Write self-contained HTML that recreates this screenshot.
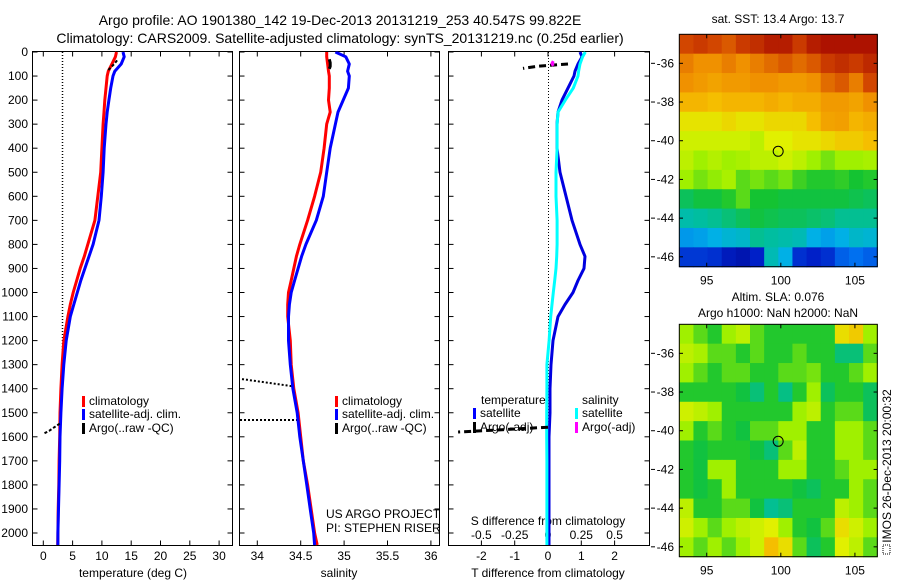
<!DOCTYPE html>
<html><head><meta charset="utf-8"><style>
body{margin:0;background:#fff;}
svg{display:block;font-family:"Liberation Sans",sans-serif;}
text{fill:#000;}
</style></head><body>
<svg id="fig" width="900" height="580" viewBox="0 0 900 580" xmlns="http://www.w3.org/2000/svg">
<defs>
<clipPath id="c1"><rect x="32.5" y="51.5" width="200" height="494"/></clipPath>
<clipPath id="c2"><rect x="239.5" y="51.5" width="200" height="494"/></clipPath>
<clipPath id="c3"><rect x="448.5" y="51.5" width="201" height="494"/></clipPath>
</defs>
<text x="340" y="25" font-size="14" text-anchor="middle">Argo profile: AO 1901380_142 19-Dec-2013 20131219_253 40.547S 99.822E</text>
<text x="340" y="43" font-size="14" text-anchor="middle">Climatology: CARS2009. Satellite-adjusted climatology: synTS_20131219.nc (0.25d earlier)</text>
</svg>
<script>
// ---- data ----
const depths = [0,20,50,80,100,150,200,250,300,400,500,600,700,800,850,900,950,1000,1050,1100,1200,1300,1400,1500,1600,1700,1800,1900,2000,2050];
const tempClim = [12.5,12.3,11.7,11.1,10.9,10.7,10.5,10.35,10.2,10.0,9.8,9.3,8.8,7.6,7.0,6.3,5.7,5.1,4.6,4.2,3.5,3.2,3.0,2.85,2.8,2.7,2.65,2.55,2.5,2.45];
const tempSat = [13.6,13.8,13.3,12.2,11.9,11.5,11.2,10.9,10.7,10.4,10.2,9.9,9.5,8.5,7.8,7.1,6.4,5.8,5.2,4.6,3.9,3.5,3.2,3.0,2.85,2.8,2.7,2.6,2.5,2.5];
const salClim = [34.80,34.80,34.81,34.82,34.83,34.83,34.82,34.84,34.80,34.77,34.73,34.66,34.58,34.49,34.45,34.42,34.39,34.36,34.35,34.35,34.38,34.39,34.42,34.47,34.50,34.53,34.58,34.62,34.66,34.69];
const salSat = [34.90,35.02,35.06,35.04,35.06,35.05,34.99,34.93,34.90,34.84,34.80,34.76,34.68,34.56,34.51,34.47,34.43,34.39,34.37,34.36,34.36,34.38,34.41,34.46,34.49,34.53,34.57,34.61,34.65,34.66];
const dTsat = [0.96,1.02,0.9,0.81,0.78,0.6,0.42,0.3,0.27,0.27,0.36,0.54,0.72,0.96,1.11,1.08,0.9,0.75,0.51,0.3,0.15,0.09,0.06,0.06,0.03,0.03,0.03,0.03,0.03,0.03];
const dSsat = [0.28,0.26,0.24,0.23,0.225,0.19,0.13,0.075,0.068,0.068,0.06,0.06,0.068,0.068,0.065,0.06,0.05,0.04,0.03,0.02,0.008,-0.008,-0.008,-0.01,-0.01,-0.008,-0.008,-0.008,-0.008,-0.008];
const argoTdepth = [35,50,65,80];
const argoT = [12.6,12.1,11.5,10.9];
const argoTdeep = [1545,1560,1575,1585];
const argoTdeepV = [2.8,1.9,1.0,0.2];
const argoSdepth = [30,45,60,70];
const argoS = [34.83,34.84,34.84,34.83];
const argoDTdepth = [50,55,60,68];
const argoDT = [0.6,0.1,-0.35,-0.75];
const argoDTdeepD = [1560,1570,1580];
const argoDTdeep = [0.0,-1.3,-2.7];
const argoDSdepth = [38,48,58];
const argoDS = [0.04,0.03,0.04];
const depthTicks = [0,100,200,300,400,500,600,700,800,900,1000,1100,1200,1300,1400,1500,1600,1700,1800,1900,2000];
const tempTicks = [0,5,10,15,20,25,30];
const salTicks = [34,34.5,35,35.5,36];
const dTTicks = [-2,-1,0,1,2];
const dSTicks = [-0.5,-0.25,0,0.25,0.5];
const lonTicks = [95,100,105];
const latTicks = [-36,-38,-40,-42,-44,-46];
const sst = [
[.88,.9,.88,.86,.9,.92,.95,.95,.9,.95,.97,.97,.97,.97],
[.82,.8,.8,.82,.8,.82,.84,.86,.84,.86,.9,.92,.9,.93],
[.8,.78,.76,.78,.78,.8,.8,.78,.78,.8,.84,.86,.82,.88],
[.72,.72,.7,.72,.72,.72,.74,.72,.74,.74,.78,.78,.76,.8],
[.64,.64,.64,.66,.64,.64,.66,.66,.66,.7,.76,.77,.72,.74],
[.6,.6,.6,.6,.6,.58,.62,.62,.64,.64,.66,.68,.68,.7],
[.58,.55,.57,.55,.56,.58,.58,.6,.58,.55,.52,.55,.55,.56],
[.55,.52,.54,.56,.5,.52,.5,.52,.48,.46,.46,.47,.45,.46],
[.42,.44,.44,.46,.5,.45,.45,.44,.44,.44,.44,.44,.43,.42],
[.36,.37,.38,.4,.42,.44,.43,.42,.42,.41,.40,.38,.38,.38],
[.27,.28,.3,.32,.33,.38,.37,.36,.35,.3,.28,.3,.33,.32],
[.15,.15,.14,.1,.08,.12,.35,.3,.14,.12,.14,.2,.22,.2]];
const sla = [
[.55,.5,.46,.55,.58,.5,.46,.46,.46,.46,.46,.65,.68,.55],
[.58,.56,.5,.5,.46,.5,.46,.46,.5,.46,.46,.4,.4,.5],
[.55,.5,.46,.5,.5,.46,.46,.5,.5,.52,.46,.46,.5,.55],
[.46,.46,.46,.46,.44,.4,.46,.39,.46,.55,.42,.46,.46,.42],
[.6,.58,.55,.46,.46,.46,.46,.46,.55,.58,.46,.5,.5,.42],
[.55,.46,.5,.46,.44,.5,.5,.55,.55,.46,.46,.55,.55,.5],
[.46,.44,.46,.46,.46,.44,.4,.5,.58,.46,.46,.55,.55,.5],
[.46,.44,.55,.55,.46,.46,.46,.55,.55,.46,.46,.5,.55,.55],
[.46,.44,.46,.55,.46,.46,.46,.46,.44,.42,.46,.46,.55,.5],
[.58,.46,.46,.5,.5,.44,.38,.4,.46,.46,.46,.58,.55,.5],
[.6,.55,.5,.55,.58,.6,.62,.55,.46,.44,.5,.65,.6,.55],
[.55,.5,.55,.5,.55,.6,.7,.65,.5,.42,.46,.62,.58,.5]];
const argoLon = 99.822, argoLat = -40.547;

// ---- scales ----
const NS="http://www.w3.org/2000/svg";
const svg=document.getElementById('fig');
const yD=d=>52+d*0.2405;
const xT=t=>43.3+t*5.86;
const xS=s=>257.3+(s-34)*86.8;
const xdT=v=>548+v*33.3;
const xdS=v=>548+v*133.2;
const lonX=l=>679.3+(l-93.15)*14.82;
const latY1=l=>34.3+(-34.5-l)*19.35;
const latY2=l=>324.3+(-34.5-l)*19.35;

function mk(tag,attrs,parent){const e=document.createElementNS(NS,tag);for(const k in attrs)e.setAttribute(k,attrs[k]);(parent||svg).appendChild(e);return e;}
function txt(x,y,s,size,anchor,parent){const e=mk('text',{x:x,y:y,'font-size':size,'text-anchor':anchor||'middle'},parent);e.textContent=s;return e;}
function line(xs,ds,xf,color,w,clip,dash){
  let p='';for(let i=0;i<xs.length;i++)p+=(i?'L':'M')+xf(xs[i]).toFixed(1)+','+yD(ds[i]).toFixed(1);
  const a={d:p,fill:'none',stroke:color,'stroke-width':w,'clip-path':'url(#'+clip+')','stroke-linejoin':'round'};
  if(dash)a['stroke-dasharray']=dash;
  return mk('path',a);
}
const palStops=[[0,[0,0,128]],[0.12,[0,32,200]],[0.22,[0,112,240]],[0.3,[0,176,230]],[0.37,[0,190,160]],[0.45,[20,195,50]],[0.55,[160,240,0]],[0.62,[225,240,0]],[0.7,[245,190,0]],[0.8,[240,145,0]],[0.88,[210,70,0]],[1,[160,0,0]]];
function pal(v){for(let i=1;i<palStops.length;i++){if(v<=palStops[i][0]){const a=palStops[i-1],b=palStops[i],f=(v-a[0])/(b[0]-a[0]);return 'rgb('+a[1].map((c,j)=>Math.round(c+(b[1][j]-c)*f)).join(',')+')';}}return 'rgb(160,0,0)';}

// ---- profile frames ----
const frames=[[32.5,239.5-7,'temperature-panel'],[239.5,439.5,'salinity-panel'],[448.5,649.5,'difference-panel']];
frames.forEach(f=>{
  const r=mk('rect',{x:f[0],y:51.5,width:f[1]-f[0],height:494,fill:'none',stroke:'#000','stroke-width':1});
  
  
});
depthTicks.forEach(d=>{
  const y=yD(d);
  frames.forEach(f=>{
    mk('line',{x1:f[0],y1:y,x2:f[0]+5,y2:y,stroke:'#000'});
    mk('line',{x1:f[1],y1:y,x2:f[1]-5,y2:y,stroke:'#000'});
  });
  const t=txt(28,y+4,String(d),12,'end');
  
  
});
function xticks(ticks,xf,fmt,y0,ylab){
  ticks.forEach(v=>{const x=xf(v);
    mk('line',{x1:x,y1:51.5,x2:x,y2:56.5,stroke:'#000'});
    mk('line',{x1:x,y1:545.5,x2:x,y2:540.5,stroke:'#000'});
    const t=txt(x,ylab,fmt(v),12);
    
    
  });
}
xticks(tempTicks,xT,String,0,560);
xticks(salTicks,xS,String,0,560);
xticks(dTTicks,xdT,String,0,560);
dSTicks.forEach(v=>{const t=txt(xdS(v),539,String(v),12);
  
  });
let t;
t=txt(133,577,'temperature (deg C)',12);


t=txt(339,577,'salinity',12);


t=txt(548,577,'T difference from climatology',12);


t=txt(548,525,'S difference from climatology',12);



// zero / reference dotted lines
let z=mk('line',{x1:62.5,y1:52,x2:62.5,y2:yD(1330),stroke:'#000','stroke-dasharray':'1,2','stroke-width':1.5});


z=mk('line',{x1:548.5,y1:52,x2:548.5,y2:545,stroke:'#000','stroke-dasharray':'1,2'});


z=mk('path',{d:'M242,'+yD(1360)+'L293,'+yD(1390)+'M240,'+yD(1530)+'L298,'+yD(1530),stroke:'#000','stroke-dasharray':'2,2','stroke-width':2,fill:'none'});



// series
let s;
s=line(tempClim,depths,xT,'#ff0000',3,'c1');


s=line(tempSat,depths,xT,'#0000ff',3,'c1');


s=line(argoT,argoTdepth,xT,'#000',2,'c1','3,2');


s=line(argoTdeepV,argoTdeep,xT,'#000',2,'c1','3,2');


s=line(salClim,depths,xS,'#ff0000',3,'c2');


s=line(salSat,depths,xS,'#0000ff',3,'c2');


s=line(argoS,argoSdepth,xS,'#000',3,'c2');


s=line(dTsat,depths,xdT,'#0000e0',3,'c3');


s=line(dSsat,depths,xdS,'#00ffff',3,'c3');


s=line(argoDT,argoDTdepth,xdT,'#000',3,'c3','7,4');


s=line(argoDTdeep,argoDTdeepD,xdT,'#000',3,'c3','7,4');


s=line(argoDS,argoDSdepth,xdS,'#ff00ff',3,'c3');



// legends
function legend(x,y,color,label,name){
  const m=mk('rect',{x:x,y:y-9,width:3,height:11,fill:color});
  
  
  const l=txt(x+7,y,label,12,'start');
  
  
}
legend(82,405,'#ff0000','climatology','legend-temp-climatology');
legend(82,418,'#0000ff','satellite-adj. clim.','legend-temp-satellite');
legend(82,432,'#000','Argo(..raw -QC)','legend-temp-argo');
legend(335,405,'#ff0000','climatology','legend-sal-climatology');
legend(335,418,'#0000ff','satellite-adj. clim.','legend-sal-satellite');
legend(335,432,'#000','Argo(..raw -QC)','legend-sal-argo');
t=txt(481,404,'temperature',12,'start');


t=txt(582,404,'salinity',12,'start');


legend(473,417,'#0000ff','satellite','legend-dt-satellite');
legend(473,431,'#000','Argo(-adj)','legend-dt-argo');
legend(575,417,'#00ffff','satellite','legend-ds-satellite');
legend(575,431,'#ff00ff','Argo(-adj)','legend-ds-argo');
t=txt(326,518,'US ARGO PROJECT',12,'start');


t=txt(326,532,'PI: STEPHEN RISER',12,'start');



// ---- maps ----
function drawMap(grid,latY,top,bottom,name){
  const g=mk('g',{});
  
  
  const rows=grid.length,cols=grid[0].length,cw=(877.3-679.3)/cols,rh=(bottom-top)/rows;
  for(let r=0;r<rows;r++)for(let c=0;c<cols;c++){
    const cell=mk('rect',{x:(679.3+c*cw).toFixed(2),y:(top+r*rh).toFixed(2),width:(cw+0.6).toFixed(2),height:(rh+0.6).toFixed(2),fill:pal(grid[r][c])},g);
    
    
  }
  const fr=mk('rect',{x:679.3,y:top,width:198,height:bottom-top,fill:'none',stroke:'#000'});
  
  
  latTicks.forEach(l=>{const y=latY(l);
    mk('line',{x1:679.3,y1:y,x2:683,y2:y,stroke:'#000'});
    mk('line',{x1:877.3,y1:y,x2:873.6,y2:y,stroke:'#000'});
    mk('line',{x1:651,y1:y,x2:655,y2:y,stroke:'#000'});
    const lt=txt(674,y+4,String(l),12,'end');
    
    
  });
  lonTicks.forEach(l=>{const x=lonX(l);
    mk('line',{x1:x,y1:top,x2:x,y2:top+4,stroke:'#000'});
    mk('line',{x1:x,y1:bottom,x2:x,y2:bottom-4,stroke:'#000'});
    const lt=txt(x,bottom+18,String(l),12);
    
    
  });
  const c=mk('circle',{cx:lonX(argoLon),cy:latY(argoLat),r:5,fill:'none',stroke:'#000'});
  
  
}
drawMap(sst,latY1,34.3,266.7,'sst-map');
drawMap(sla,latY2,324.3,556.7,'sla-map');
t=txt(778,23,'sat. SST: 13.4 Argo: 13.7',12);


t=txt(778,301,'Altim. SLA: 0.076',12);


t=txt(778,317,'Argo h1000: NaN h2000: NaN',12);


t=mk('text',{x:0,y:0,'font-size':12,'text-anchor':'middle',transform:'translate(891,466) rotate(-90)'});
t.textContent='IMOS 26-Dec-2013 20:00:32';


const ic=mk('rect',{x:883,y:545,width:7,height:9,fill:'none',stroke:'#000','stroke-dasharray':'1,1'});


</script>
</body></html>
